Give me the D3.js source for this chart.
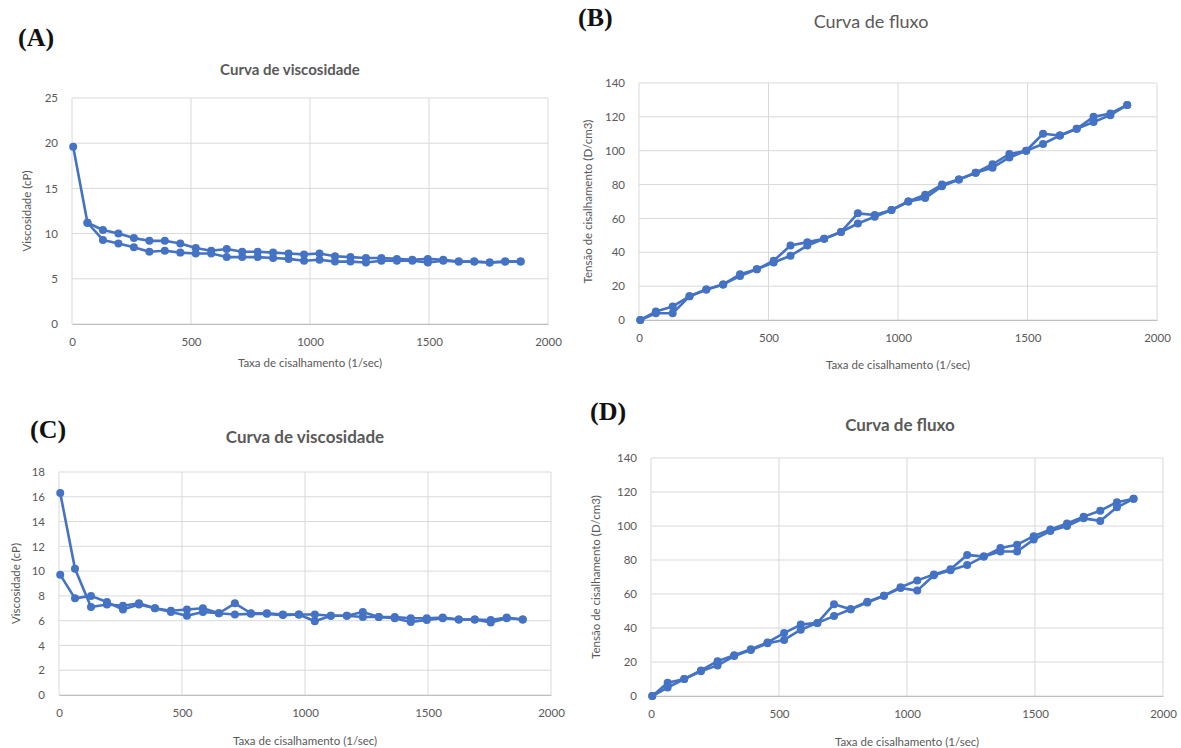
<!DOCTYPE html>
<html><head><meta charset="utf-8">
<script src="https://cdn.jsdelivr.net/npm/d3@7/dist/d3.min.js"></script>
<style>
html,body{margin:0;padding:0;background:#fff;}
svg{display:block;font-family:Lato, "Open Sans", sans-serif;}
</style></head>
<body>
<svg id="chart" width="1181" height="748"></svg>
<script>
// ---------- DATA ----------
const shearRate = [5, 65, 130, 195, 260, 325, 390, 455, 520, 585, 650, 715, 780, 845, 910, 975, 1040, 1105, 1170, 1235, 1300, 1365, 1430, 1495, 1560, 1625, 1690, 1755, 1820, 1885];
const xTickLabels = [0, 500, 1000, 1500, 2000];

// (A) viscosity curve
const viscA_up   = [19.6, 11.2, 10.4, 10.0, 9.5, 9.2, 9.2, 8.9, 8.4, 8.1, 8.3, 8.0, 8.0, 7.9, 7.8, 7.7, 7.8, 7.5, 7.4, 7.3, 7.3, 7.2, 7.1, 7.2, 7.1, 6.9, 6.9, 6.8, 6.9, 6.9];
const viscA_down = [null, 11.2, 9.3, 8.9, 8.5, 8.0, 8.1, 7.9, 7.8, 7.8, 7.4, 7.4, 7.4, 7.3, 7.2, 7.0, 7.1, 6.9, 6.9, 6.8, 7.0, 7.0, 7.0, 6.8, 7.0, 6.9, 6.9, 6.8, 6.9, 6.9];
const yTicksA = [0, 5, 10, 15, 20, 25];

// (B) flow curve
const stressB_up   = [0, 5, 8, 14, 18, 21, 27, 30, 35, 44, 46, 48, 52, 63, 62, 65, 70, 74, 80, 83, 87, 92, 98, 100, 110, 109, 113, 120, 122, 127];
const stressB_down = [0, 4, 4, 14, 18, 21, 26, 30, 34, 38, 44, 48, 52, 57, 61, 65, 70, 72, 79, 83, 87, 90, 96, 100, 104, 109, 113, 117, 121, 127];
const yTicksB = [0, 20, 40, 60, 80, 100, 120, 140];

// (C) viscosity curve
const viscC_up   = [16.3, 10.2, 7.1, 7.3, 7.2, 7.4, 7.0, 6.8, 6.9, 7.0, 6.6, 7.4, 6.6, 6.6, 6.5, 6.5, 6.5, 6.4, 6.4, 6.7, 6.3, 6.3, 6.2, 6.2, 6.25, 6.1, 6.1, 6.05, 6.25, 6.1];
const viscC_down = [9.7, 7.8, 8.0, 7.5, 6.9, 7.3, 7.0, 6.7, 6.4, 6.7, 6.6, 6.5, 6.55, 6.55, 6.45, 6.5, 5.95, 6.4, 6.4, 6.3, 6.3, 6.2, 5.9, 6.05, 6.2, 6.1, 6.1, 5.85, 6.2, 6.1];
const yTicksC = [0, 2, 4, 6, 8, 10, 12, 14, 16, 18];

// (D) flow curve
const stressD_up   = [0, 7.8, 10, 15, 20.5, 24, 27.5, 31.5, 37, 42, 43, 54, 51, 55, 59, 64, 68, 71.5, 74.5, 83, 82, 87, 89, 94, 98, 101.5, 105.5, 109, 114, 116];
const stressD_down = [0, 5, 10, 14.5, 18, 23.5, 27, 31, 33, 39, 43, 47, 51, 55.5, 59, 63.5, 62, 71, 74, 77, 82, 85, 85, 92, 97, 100, 104.5, 103, 111, 116];
const yTicksD = [0, 20, 40, 60, 80, 100, 120, 140];

const panelLabels = ["(A)", "(B)", "(C)", "(D)"];
const panelTitles = ["Curva de viscosidade", "Curva de fluxo", "Curva de viscosidade", "Curva de fluxo"];
const xAxisTitle = "Taxa de cisalhamento (1/sec)";
const yAxisTitles = ["Viscosidade (cP)", "Tensão de cisalhamento (D/cm3)", "Viscosidade (cP)", "Tensão de cisalhamento (D/cm3)"];

// ---------- LAYOUT ----------
const BLUE = "#4472C4", GRID = "#d9d9d9", TXT = "#595959";
const panels = [
  {lab: {x: 18, y: 46}, title: {x: 290, y: 75, size: 15, bold: true},
   box: {l: 72, r: 548, t: 98, b: 324}, yTicks: yTicksA, series: [viscA_up, viscA_down],
   ytitleX: 31, xtitleY: 367},
  {lab: {x: 578, y: 26}, title: {x: 871, y: 28, size: 18, bold: false},
   box: {l: 639, r: 1157, t: 83, b: 320}, yTicks: yTicksB, series: [stressB_up, stressB_down],
   ytitleX: 592, xtitleY: 369},
  {lab: {x: 30, y: 438}, title: {x: 305, y: 443, size: 17, bold: true},
   box: {l: 59, r: 551, t: 472, b: 695}, yTicks: yTicksC, series: [viscC_up, viscC_down],
   ytitleX: 20, xtitleY: 745},
  {lab: {x: 590, y: 420}, title: {x: 900, y: 431, size: 17, bold: true},
   box: {l: 651, r: 1163, t: 458, b: 696}, yTicks: yTicksD, series: [stressD_up, stressD_down],
   ytitleX: 600, xtitleY: 746}
];

const svg = d3.select("#chart");

panels.forEach((p, i) => {
  const g = svg.append("g");
  const b = p.box;
  const x = d3.scaleLinear().domain([0, 2000]).range([b.l, b.r]);
  const yMax = p.yTicks[p.yTicks.length - 1];
  const y = d3.scaleLinear().domain([0, yMax]).range([b.b, b.t]);

  // grid
  g.append("g").selectAll("line.h").data(p.yTicks).join("line")
    .attr("x1", b.l).attr("x2", b.r).attr("y1", d => y(d)).attr("y2", d => y(d))
    .attr("stroke", GRID).attr("stroke-width", 1);
  g.append("g").selectAll("line.v").data(xTickLabels).join("line")
    .attr("x1", d => x(d)).attr("x2", d => x(d)).attr("y1", b.t).attr("y2", b.b)
    .attr("stroke", GRID).attr("stroke-width", 1);

  // axes
  const xa = g.append("g").attr("transform", `translate(0,${b.b})`)
    .call(d3.axisBottom(x).tickValues(xTickLabels).tickSize(0).tickPadding(14).tickFormat(d3.format("d")));
  xa.select(".domain").attr("stroke", "#bfbfbf").attr("stroke-width", 1.2);
  xa.selectAll("text").attr("fill", TXT).attr("font-size", 11.5).attr("font-family", "Lato, sans-serif");

  const ya = g.append("g").attr("transform", `translate(${b.l},0)`)
    .call(d3.axisLeft(y).tickValues(p.yTicks).tickSize(0).tickPadding(14).tickFormat(d3.format("d")));
  ya.select(".domain").remove();
  ya.selectAll("text").attr("fill", TXT).attr("font-size", 11.5).attr("font-family", "Lato, sans-serif");

  // series
  const line = d3.line().defined(d => d[1] != null).x(d => x(d[0])).y(d => y(d[1]));
  p.series.forEach(s => {
    const pts = shearRate.map((r, k) => [r, s[k]]);
    g.append("path").datum(pts).attr("d", line)
      .attr("fill", "none").attr("stroke", BLUE).attr("stroke-width", 2.6).attr("stroke-linejoin", "round");
    g.append("g").selectAll("circle").data(pts.filter(d => d[1] != null)).join("circle")
      .attr("cx", d => x(d[0])).attr("cy", d => y(d[1])).attr("r", 4).attr("fill", BLUE);
  });

  // titles
  g.append("text").attr("x", p.title.x).attr("y", p.title.y).attr("text-anchor", "middle")
    .attr("font-size", p.title.size).attr("font-weight", p.title.bold ? "bold" : "normal")
    .attr("fill", TXT).text(panelTitles[i]);
  g.append("text").attr("x", (b.l + b.r) / 2).attr("y", p.xtitleY).attr("text-anchor", "middle")
    .attr("font-size", 11.5).attr("fill", TXT).text(xAxisTitle);
  g.append("text").attr("transform", `translate(${p.ytitleX},${(b.t + b.b) / 2}) rotate(-90)`)
    .attr("text-anchor", "middle").attr("font-size", 11.5).attr("fill", TXT).text(yAxisTitles[i]);

  // panel label
  g.append("text").attr("x", p.lab.x).attr("y", p.lab.y)
    .attr("font-family", "'Liberation Serif', 'DejaVu Serif', serif").attr("font-weight", "bold")
    .attr("font-size", 26).attr("fill", "#111").text(panelLabels[i]);
});
</script>
</body></html>
